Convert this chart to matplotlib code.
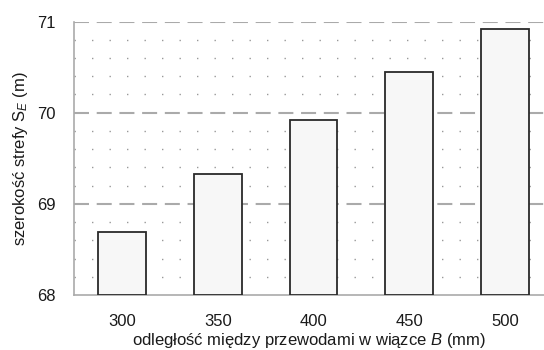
import matplotlib.pyplot as plt
import numpy as np

plt.rcParams['font.family'] = ['Liberation Sans', 'DejaVu Sans']
plt.rcParams['mathtext.fontset'] = 'custom'
plt.rcParams['mathtext.rm'] = 'Liberation Sans'
plt.rcParams['mathtext.it'] = 'Liberation Sans:italic'

# dane
odleglosci = ['300', '350', '400', '450', '500']
szerokosc = [68.69, 69.33, 69.92, 70.45, 70.92]

fig = plt.figure(figsize=(5.44, 3.5), dpi=100)
ax = fig.add_axes([74 / 544, 1 - 295 / 350, 1 - 74 / 544, (295 - 21.5) / 350])

x = np.arange(len(odleglosci))
ax.bar(x, [v - 68 for v in szerokosc], bottom=68, width=0.5,
       color='#f7f7f7', edgecolor='#2a2a2a', linewidth=1.3, zorder=3)

ax.set_ylim(68, 71)
ax.set_xlim(-0.506, 4.41)
ax.set_yticks([68, 69, 70, 71])
ax.set_xticks(x)
ax.set_xticklabels(odleglosci)

# siatka główna - kreskowana, pomocnicza - kropkowana
for yv in [69, 70, 71]:
    ax.axhline(yv, color='#aaaaaa', linewidth=1.5, dashes=(7.2, 3.7), zorder=1)
for yv in np.arange(68.2, 71, 0.2):
    if abs(yv - round(yv)) > 0.01:
        ax.axhline(yv, color='#999999', linewidth=1.0, dashes=(1.0, 11.6), zorder=1)

for s in ['top', 'right']:
    ax.spines[s].set_visible(False)
for s in ['left', 'bottom']:
    ax.spines[s].set_color('#aaaaaa')
    ax.spines[s].set_linewidth(1.2)

ax.tick_params(axis='both', which='both', length=0, labelsize=12, colors='#1a1a1a')
ax.tick_params(axis='y', pad=13.5)
ax.tick_params(axis='x', pad=13.5)

ax.set_xlabel('odległość między przewodami w wiązce $\\mathit{B}$ (mm)', fontsize=12,
              labelpad=1.5, color='#1a1a1a')
ax.set_ylabel('szerokość strefy $\\mathrm{S}_{\\mathit{E}}$ (m)', fontsize=12,
              labelpad=5, color='#1a1a1a')

fig.savefig('out.png', dpi=100)
